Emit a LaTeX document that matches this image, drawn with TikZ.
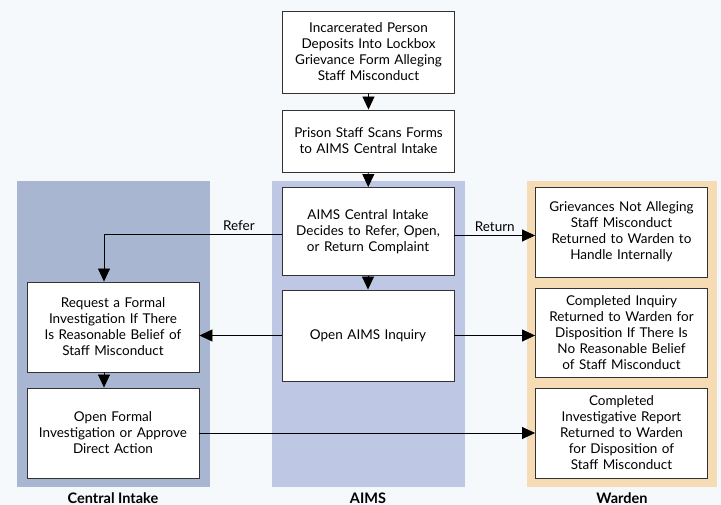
\documentclass[tikz,border=0pt]{standalone}
\usepackage{fontspec}
\setmainfont{Lato}
\usetikzlibrary{arrows.meta,calc}
\definecolor{bgc}{HTML}{F6F9FC}
\definecolor{cilane}{HTML}{A9B6D2}
\definecolor{aimslane}{HTML}{BEC8E4}
\definecolor{wlane}{HTML}{F6DCB4}
\definecolor{boxline}{HTML}{333333}
\tikzset{
  x=1pt,y=-1pt,
  procbox/.style={draw=boxline,line width=0.9pt,fill=white,align=center,inner sep=2pt,
    minimum width=172pt,text width=168pt,font=\fontsize{13.5}{16}\selectfont},
  conn/.style={line width=0.8pt,-{Triangle[length=13pt,width=12pt]}},
  lanelabel/.style={font=\fontsize{14.5}{16}\selectfont\bfseries},
  edgelabel/.style={font=\fontsize{13.5}{15}\selectfont}
}
\begin{document}
\begin{tikzpicture}
\fill[bgc] (0,0) rectangle (721,505);
\useasboundingbox (0,0) rectangle (721,505);
% lanes
\fill[cilane] (17,181) rectangle (210,487);
\fill[aimslane] (272,181) rectangle (465,487);
\fill[wlane] (527,181) rectangle (717,487);
\node[lanelabel] (lci) at (113,498) {Central Intake};
\node[lanelabel] (laims) at (368,498) {AIMS};
\node[lanelabel] (lw) at (622,498) {Warden};
% boxes
\node[procbox,minimum height=82pt] (top) at (368.5,52) {Incarcerated Person\\Deposits Into Lockbox\\Grievance Form Alleging\\Staff Misconduct};
\node[procbox,minimum height=62pt] (scan) at (368.5,141) {Prison Staff Scans Forms\\to AIMS Central Intake};
\node[procbox,minimum height=88pt] (dec) at (368,231.5) {AIMS Central Intake\\Decides to Refer, Open,\\or Return Complaint};
\node[procbox,minimum height=91pt] (oa) at (368,335.5) {Open AIMS Inquiry};
\node[procbox,minimum height=90pt] (w1) at (621.5,232) {Grievances Not Alleging\\Staff Misconduct\\Returned to Warden to\\Handle Internally};
\node[procbox,minimum height=89pt] (w2) at (621.5,333) {Completed Inquiry\\Returned to Warden for\\Disposition If There Is\\No Reasonable Belief\\of Staff Misconduct};
\node[procbox,minimum height=90pt] (w3) at (621.5,433) {Completed\\Investigative Report\\Returned to Warden\\for Disposition of\\Staff Misconduct};
\node[procbox,minimum height=90pt] (l1) at (113,327) {Request a Formal\\Investigation If There\\Is Reasonable Belief of\\Staff Misconduct};
\node[procbox,minimum height=90pt] (l2) at (113,433) {Open Formal\\Investigation or Approve\\Direct Action};
% connectors
\draw[conn] (top) -- (scan);
\draw[conn] (scan) -- (dec);
\draw[conn] (dec) -- (oa);
\draw[conn] ([yshift=-4pt]dec.east) -- ([yshift=-4pt]dec.east -| w1.west)
  node[edgelabel,midway,above=0pt] (lret) {Return};
\coordinate (rc) at ([yshift=-3pt,xshift=-9pt]dec.west -| l1.north);
\draw[conn] ([yshift=-3pt]dec.west) -- node[edgelabel,above=0pt,pos=0.24] (lref) {Refer} (rc) -- ([xshift=-9pt]l1.north);
\draw[conn] (oa.west) -- (oa.west -| l1.east);
\draw[conn] (oa.east) -- (oa.east -| w2.west);
\draw[conn] ([xshift=-9pt]l1.south) -- ([xshift=-9pt]l2.north);
\draw[conn] (l2.east) -- (l2.east -| w3.west);
\end{tikzpicture}
\end{document}
